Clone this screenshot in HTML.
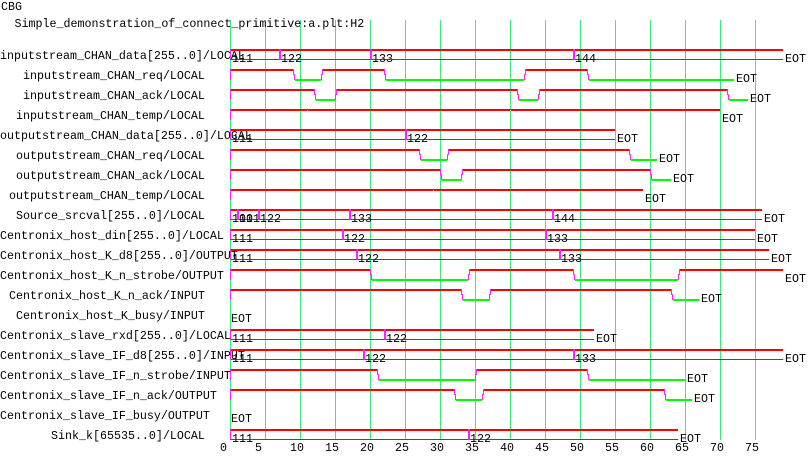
<!DOCTYPE html>
<html>
<head>
<meta charset="utf-8">
<style>
html,body{margin:0;padding:0;background:#fff;}
svg{display:block;}
text{font-family:"Liberation Mono",monospace;font-size:11.665px;fill:#000;}
.r{fill:#ff0000;}
.g{fill:#00ff00;}
.m{fill:#ff22ff;}
.w{fill:#ffffff;}
.gr{fill:#3cea80;}
</style>
</head>
<body>
<svg width="810" height="460" viewBox="0 0 810 460" xmlns="http://www.w3.org/2000/svg" shape-rendering="crispEdges">
<rect width="810" height="460" fill="#fff"/>
<!-- grid -->
<g class="gr">
<rect x="230" y="20" width="1" height="420"/><rect x="265" y="20" width="1" height="420"/>
<rect x="300" y="20" width="1" height="420"/><rect x="335" y="20" width="1" height="420"/>
<rect x="370" y="20" width="1" height="420"/><rect x="405" y="20" width="1" height="420"/>
<rect x="440" y="20" width="1" height="420"/><rect x="475" y="20" width="1" height="420"/>
<rect x="510" y="20" width="1" height="420"/><rect x="545" y="20" width="1" height="420"/>
<rect x="580" y="20" width="1" height="420"/><rect x="615" y="20" width="1" height="420"/>
<rect x="650" y="20" width="1" height="420"/><rect x="685" y="20" width="1" height="420"/>
<rect x="720" y="20" width="1" height="420"/><rect x="755" y="20" width="1" height="420"/>
</g>

<!-- Row1 T=49 bus -->
<g class="r">
<rect x="231" y="49" width="48" height="2"/><rect x="281" y="49" width="89" height="2"/>
<rect x="372" y="49" width="201" height="2"/><rect x="575" y="49" width="208" height="2"/>
<rect x="231" y="59" width="552" height="1"/>
</g>
<g class="m">
<rect x="230" y="49" width="1" height="11"/><rect x="279" y="49" width="2" height="11"/>
<rect x="370" y="49" width="2" height="11"/><rect x="573" y="49" width="2" height="11"/>
</g>

<!-- Row2 T=69 -->
<g class="r">
<rect x="231" y="69" width="62" height="2"/><rect x="323" y="69" width="61" height="2"/><rect x="526" y="69" width="61" height="2"/>
</g>
<g class="g">
<rect x="295" y="79" width="26" height="2"/><rect x="386" y="79" width="138" height="2"/><rect x="589" y="79" width="145" height="2"/>
</g>
<g class="m">
<rect x="230" y="69" width="1" height="11"/>
<rect x="293" y="69" width="1" height="6"/><rect x="294" y="74" width="1" height="6"/>
<rect x="321" y="74" width="1" height="6"/><rect x="322" y="69" width="1" height="6"/>
<rect x="384" y="69" width="1" height="6"/><rect x="385" y="74" width="1" height="6"/>
<rect x="524" y="74" width="1" height="6"/><rect x="525" y="69" width="1" height="6"/>
<rect x="587" y="69" width="1" height="6"/><rect x="588" y="74" width="1" height="6"/>
</g>

<!-- Row3 T=89 -->
<g class="r">
<rect x="231" y="89" width="83" height="2"/><rect x="337" y="89" width="180" height="2"/><rect x="540" y="89" width="187" height="2"/>
</g>
<g class="g">
<rect x="316" y="99" width="19" height="2"/><rect x="519" y="99" width="19" height="2"/><rect x="729" y="99" width="19" height="2"/>
</g>
<g class="m">
<rect x="230" y="89" width="1" height="11"/>
<rect x="314" y="89" width="1" height="6"/><rect x="315" y="94" width="1" height="6"/>
<rect x="335" y="94" width="1" height="6"/><rect x="336" y="89" width="1" height="6"/>
<rect x="517" y="89" width="1" height="6"/><rect x="518" y="94" width="1" height="6"/>
<rect x="538" y="94" width="1" height="6"/><rect x="539" y="89" width="1" height="6"/>
<rect x="727" y="89" width="1" height="6"/><rect x="728" y="94" width="1" height="6"/>
</g>

<!-- Row4 T=109 -->
<rect class="r" x="231" y="109" width="489" height="2"/>
<rect class="m" x="230" y="109" width="1" height="11"/>
<rect class="w" x="307" y="110" width="1" height="1"/><rect class="w" x="510" y="110" width="1" height="1"/>

<!-- Row5 T=129 bus -->
<g class="r">
<rect x="231" y="129" width="174" height="2"/><rect x="407" y="129" width="208" height="2"/>
<rect x="231" y="139" width="384" height="1"/>
</g>
<g class="m">
<rect x="230" y="129" width="1" height="11"/><rect x="405" y="129" width="2" height="11"/>
</g>

<!-- Row6 T=149 -->
<g class="r">
<rect x="231" y="149" width="188" height="2"/><rect x="449" y="149" width="180" height="2"/>
</g>
<g class="g">
<rect x="421" y="159" width="26" height="2"/><rect x="631" y="159" width="26" height="2"/>
</g>
<g class="m">
<rect x="230" y="149" width="1" height="11"/>
<rect x="419" y="149" width="1" height="6"/><rect x="420" y="154" width="1" height="6"/>
<rect x="447" y="154" width="1" height="6"/><rect x="448" y="149" width="1" height="6"/>
<rect x="629" y="149" width="1" height="6"/><rect x="630" y="154" width="1" height="6"/>
</g>

<!-- Row7 T=169 -->
<g class="r">
<rect x="231" y="169" width="209" height="2"/><rect x="463" y="169" width="187" height="2"/>
</g>
<g class="g">
<rect x="442" y="179" width="19" height="2"/><rect x="652" y="179" width="19" height="2"/>
</g>
<g class="m">
<rect x="230" y="169" width="1" height="11"/>
<rect x="440" y="169" width="1" height="6"/><rect x="441" y="174" width="1" height="6"/>
<rect x="461" y="174" width="1" height="6"/><rect x="462" y="169" width="1" height="6"/>
<rect x="650" y="169" width="1" height="6"/><rect x="651" y="174" width="1" height="6"/>
</g>

<!-- Row8 T=189 -->
<rect class="r" x="231" y="189" width="412" height="2"/>
<rect class="m" x="230" y="189" width="1" height="11"/>
<rect class="w" x="433" y="190" width="1" height="1"/>

<!-- Row9 T=209 bus -->
<g class="r">
<rect x="231" y="209" width="6" height="2"/><rect x="239" y="209" width="19" height="2"/>
<rect x="260" y="209" width="89" height="2"/><rect x="351" y="209" width="201" height="2"/>
<rect x="554" y="209" width="208" height="2"/>
<rect x="231" y="219" width="531" height="1"/>
</g>
<g class="m">
<rect x="230" y="209" width="1" height="11"/><rect x="237" y="209" width="2" height="11"/>
<rect x="258" y="209" width="2" height="11"/><rect x="349" y="209" width="2" height="11"/>
<rect x="552" y="209" width="2" height="11"/>
</g>

<!-- Row10 T=229 bus -->
<g class="r">
<rect x="231" y="229" width="111" height="2"/><rect x="344" y="229" width="201" height="2"/>
<rect x="547" y="229" width="208" height="2"/>
<rect x="231" y="239" width="524" height="1"/>
</g>
<g class="m">
<rect x="230" y="229" width="1" height="11"/><rect x="342" y="229" width="2" height="11"/>
<rect x="545" y="229" width="2" height="11"/>
</g>

<!-- Row11 T=249 bus -->
<g class="r">
<rect x="231" y="249" width="125" height="2"/><rect x="358" y="249" width="201" height="2"/>
<rect x="561" y="249" width="208" height="2"/>
<rect x="231" y="259" width="538" height="1"/>
</g>
<g class="m">
<rect x="230" y="249" width="1" height="11"/><rect x="356" y="249" width="2" height="11"/>
<rect x="559" y="249" width="2" height="11"/>
</g>

<!-- Row12 T=269 -->
<g class="r">
<rect x="231" y="269" width="139" height="2"/><rect x="470" y="269" width="103" height="2"/><rect x="680" y="269" width="103" height="2"/>
</g>
<g class="g">
<rect x="372" y="279" width="96" height="2"/><rect x="575" y="279" width="103" height="2"/>
</g>
<g class="m">
<rect x="230" y="269" width="1" height="11"/>
<rect x="370" y="269" width="1" height="6"/><rect x="371" y="274" width="1" height="6"/>
<rect x="468" y="274" width="1" height="6"/><rect x="469" y="269" width="1" height="6"/>
<rect x="573" y="269" width="1" height="6"/><rect x="574" y="274" width="1" height="6"/>
<rect x="678" y="274" width="1" height="6"/><rect x="679" y="269" width="1" height="6"/>
</g>

<!-- Row13 T=289 -->
<g class="r">
<rect x="231" y="289" width="230" height="2"/><rect x="491" y="289" width="180" height="2"/>
</g>
<g class="g">
<rect x="463" y="299" width="26" height="2"/><rect x="673" y="299" width="26" height="2"/>
</g>
<g class="m">
<rect x="230" y="289" width="1" height="11"/>
<rect x="461" y="289" width="1" height="6"/><rect x="462" y="294" width="1" height="6"/>
<rect x="489" y="294" width="1" height="6"/><rect x="490" y="289" width="1" height="6"/>
<rect x="671" y="289" width="1" height="6"/><rect x="672" y="294" width="1" height="6"/>
</g>

<!-- Row15 T=329 bus -->
<g class="r">
<rect x="231" y="329" width="153" height="2"/><rect x="386" y="329" width="208" height="2"/>
<rect x="231" y="339" width="363" height="1"/>
</g>
<g class="m">
<rect x="230" y="329" width="1" height="11"/><rect x="384" y="329" width="2" height="11"/>
</g>

<!-- Row16 T=349 bus -->
<g class="r">
<rect x="231" y="349" width="132" height="2"/><rect x="365" y="349" width="208" height="2"/>
<rect x="575" y="349" width="208" height="2"/>
<rect x="231" y="359" width="552" height="1"/>
</g>
<g class="m">
<rect x="230" y="349" width="1" height="11"/><rect x="363" y="349" width="2" height="11"/>
<rect x="573" y="349" width="2" height="11"/>
</g>

<!-- Row17 T=369 -->
<g class="r">
<rect x="231" y="369" width="146" height="2"/><rect x="477" y="369" width="110" height="2"/>
</g>
<g class="g">
<rect x="379" y="379" width="96" height="2"/><rect x="589" y="379" width="96" height="2"/>
</g>
<g class="m">
<rect x="230" y="369" width="1" height="11"/>
<rect x="377" y="369" width="1" height="6"/><rect x="378" y="374" width="1" height="6"/>
<rect x="475" y="374" width="1" height="6"/><rect x="476" y="369" width="1" height="6"/>
<rect x="587" y="369" width="1" height="6"/><rect x="588" y="374" width="1" height="6"/>
</g>

<!-- Row18 T=389 -->
<g class="r">
<rect x="231" y="389" width="223" height="2"/><rect x="484" y="389" width="180" height="2"/>
</g>
<g class="g">
<rect x="456" y="399" width="26" height="2"/><rect x="666" y="399" width="26" height="2"/>
</g>
<g class="m">
<rect x="230" y="389" width="1" height="11"/>
<rect x="454" y="389" width="1" height="6"/><rect x="455" y="394" width="1" height="6"/>
<rect x="482" y="394" width="1" height="6"/><rect x="483" y="389" width="1" height="6"/>
<rect x="664" y="389" width="1" height="6"/><rect x="665" y="394" width="1" height="6"/>
</g>

<!-- Row20 T=429 bus -->
<g class="r">
<rect x="231" y="429" width="237" height="2"/><rect x="470" y="429" width="208" height="2"/>
<rect x="231" y="439" width="447" height="1"/>
</g>
<g class="m">
<rect x="230" y="429" width="1" height="11"/><rect x="468" y="429" width="2" height="11"/>
</g>

<!-- Titles -->
<text x="1" y="10">CBG</text>
<text x="14.5" y="27">Simple_demonstration_of_connect_primitive:a.plt:H2</text>

<!-- Signal names -->
<text x="0" y="59">inputstream_CHAN_data[255..0]/LOCAL</text>
<text x="23" y="79">inputstream_CHAN_req/LOCAL</text>
<text x="23" y="99">inputstream_CHAN_ack/LOCAL</text>
<text x="16" y="119">inputstream_CHAN_temp/LOCAL</text>
<text x="0" y="139">outputstream_CHAN_data[255..0]/LOCAL</text>
<text x="16" y="159">outputstream_CHAN_req/LOCAL</text>
<text x="16" y="179">outputstream_CHAN_ack/LOCAL</text>
<text x="9" y="199">outputstream_CHAN_temp/LOCAL</text>
<text x="16" y="219">Source_srcval[255..0]/LOCAL</text>
<text x="0" y="239">Centronix_host_din[255..0]/LOCAL</text>
<text x="0" y="259">Centronix_host_K_d8[255..0]/OUTPUT</text>
<text x="0" y="279">Centronix_host_K_n_strobe/OUTPUT</text>
<text x="9" y="299">Centronix_host_K_n_ack/INPUT</text>
<text x="16" y="319">Centronix_host_K_busy/INPUT</text>
<text x="0" y="339">Centronix_slave_rxd[255..0]/LOCAL</text>
<text x="0" y="359">Centronix_slave_IF_d8[255..0]/INPUT</text>
<text x="0" y="379">Centronix_slave_IF_n_strobe/INPUT</text>
<text x="0" y="399">Centronix_slave_IF_n_ack/OUTPUT</text>
<text x="0" y="419">Centronix_slave_IF_busy/OUTPUT</text>
<text x="51" y="439">Sink_k[65535..0]/LOCAL</text>

<!-- Values -->
<text x="232" y="62">111</text><text x="281" y="62">122</text><text x="372" y="62">133</text><text x="575" y="62">144</text>
<text x="785" y="62">EOT</text>
<text x="736" y="82">EOT</text>
<text x="750" y="102">EOT</text>
<text x="722" y="122">EOT</text>
<text x="232" y="142">111</text><text x="407" y="142">122</text><text x="617" y="142">EOT</text>
<text x="659" y="162">EOT</text>
<text x="673" y="182">EOT</text>
<text x="645" y="202">EOT</text>
<text x="232" y="222">111</text><text x="239" y="222">001</text><text x="260" y="222">122</text><text x="351" y="222">133</text><text x="554" y="222">144</text><text x="764" y="222">EOT</text>
<text x="232" y="242">111</text><text x="344" y="242">122</text><text x="547" y="242">133</text><text x="757" y="242">EOT</text>
<text x="232" y="262">111</text><text x="358" y="262">122</text><text x="561" y="262">133</text><text x="771" y="262">EOT</text>
<text x="785" y="282">EOT</text>
<text x="701" y="302">EOT</text>
<text x="231" y="322">EOT</text>
<text x="232" y="342">111</text><text x="386" y="342">122</text><text x="596" y="342">EOT</text>
<text x="232" y="362">111</text><text x="365" y="362">122</text><text x="575" y="362">133</text><text x="785" y="362">EOT</text>
<text x="687" y="382">EOT</text>
<text x="694" y="402">EOT</text>
<text x="231" y="422">EOT</text>
<text x="232" y="442">111</text><text x="470" y="442">122</text><text x="680" y="442">EOT</text>

<!-- Axis -->
<text x="220" y="451">0</text><text x="255" y="451">5</text><text x="290" y="451">10</text><text x="325" y="451">15</text>
<text x="360" y="451">20</text><text x="395" y="451">25</text><text x="430" y="451">30</text><text x="465" y="451">35</text>
<text x="500" y="451">40</text><text x="535" y="451">45</text><text x="570" y="451">50</text><text x="605" y="451">55</text>
<text x="640" y="451">60</text><text x="675" y="451">65</text><text x="710" y="451">70</text><text x="745" y="451">75</text>
</svg>
</body>
</html>
